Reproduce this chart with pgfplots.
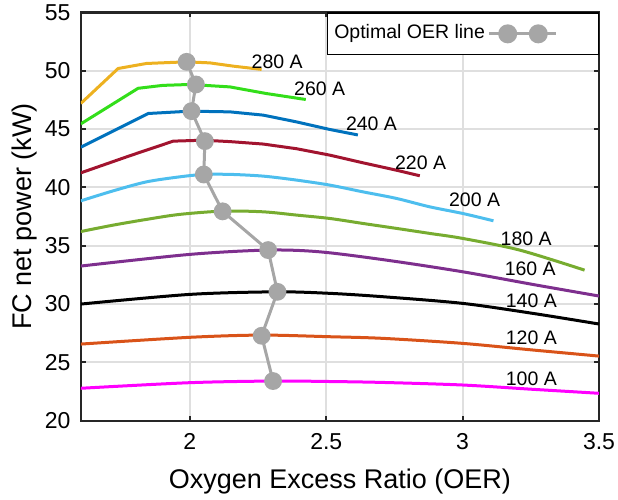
\documentclass[border=0pt]{standalone}
\usepackage{fontspec}
\setmainfont{Liberation Sans}
\usepackage{pgfplots}
\pgfplotsset{compat=1.18}

\definecolor{c280}{HTML}{EDB120}
\definecolor{c260}{RGB}{51,222,26}
\definecolor{c240}{HTML}{0072BD}
\definecolor{c220}{HTML}{A2142F}
\definecolor{c200}{HTML}{4DBEEE}
\definecolor{c180}{HTML}{77AC30}
\definecolor{c160}{HTML}{7E2F8E}
\definecolor{c120}{HTML}{D95319}
\definecolor{c100}{HTML}{FF00FF}
\definecolor{optgray}{HTML}{A6A6A6}
\definecolor{gridgray}{HTML}{DFDFDF}
\definecolor{axgray}{HTML}{262626}

\newcommand{\lblfont}{\fontsize{9.75bp}{11bp}\selectfont}

\begin{document}
\begin{tikzpicture}
\begin{axis}[
    scale only axis,
    width=259.1bp, height=204.1bp,
    xmin=1.6, xmax=3.5, ymin=20, ymax=55,
    xtick={2,2.5,3,3.5},
    ytick={20,25,30,35,40,45,50,55},
    grid=major,
    grid style={line width=1bp, color=gridgray},
    axis line style={line width=1.1bp, color=axgray},
    tick style={line width=1bp, color=axgray},
    major tick length=2.5bp,
    tick align=inside,
    ticklabel style={font=\fontsize{11.5bp}{13bp}\selectfont},
    /pgf/number format/assume math mode=true,
    xticklabel style={inner ysep=0pt, yshift=-6bp},
    yticklabel style={inner xsep=0pt, xshift=-5bp},
    xlabel={Oxygen Excess Ratio (OER)},
    ylabel={FC net power (kW)},
    every axis x label/.style={at={([yshift=-30.6bp]axis description cs:0.5,0)}, anchor=center, font=\fontsize{13.5bp}{15bp}\selectfont},
    every axis y label/.style={at={([xshift=-28.2bp]axis description cs:0,0.5)}, anchor=center, rotate=90, font=\fontsize{13.5bp}{15bp}\selectfont},
    legend plot pos=right,
    legend style={at={(1,1)}, anchor=north east, draw=black, line width=0.6bp, fill=white,
        inner xsep=2bp, inner ysep=4.5bp, font=\lblfont,
        nodes={inner sep=1.3bp, text depth=0.21em}, cells={anchor=west}},
]
% current curves (stack current in A)
\addplot[forget plot, c280, line width=1.5bp] coordinates {(1.6,47.2) (1.737,50.2) (1.841,50.63) (1.988,50.77) (2.073,50.68) (2.159,50.4) (2.263,50.12)};
\addplot[forget plot, c260, line width=1.5bp] coordinates {(1.6,45.45) (1.81,48.5) (1.9,48.75) (2.0,48.83) (2.147,48.62) (2.281,48.05) (2.425,47.54)};
\addplot[forget plot, c240, line width=1.5bp] coordinates {(1.6,43.45) (1.847,46.34) (2.0,46.54) (2.147,46.48) (2.269,46.2) (2.391,45.62) (2.513,44.97) (2.616,44.5)};
\addplot[forget plot, c220, line width=1.5bp] coordinates {(1.6,41.25) (1.78,42.72) (1.939,43.97) (2.049,44.05) (2.147,43.93) (2.269,43.72) (2.391,43.32) (2.513,42.77) (2.635,42.11) (2.757,41.48) (2.843,41.0)};
\addplot[forget plot, c200, line width=1.5bp, smooth] coordinates {(1.6,38.85) (1.719,39.71) (1.841,40.48) (1.963,40.91) (2.049,41.11) (2.147,41.12) (2.269,40.97) (2.391,40.63) (2.513,40.2) (2.635,39.62) (2.757,39.06) (2.879,38.34) (3.0,37.77) (3.113,37.14)};
\addplot[forget plot, c180, line width=1.5bp, smooth] coordinates {(1.6,36.22) (1.719,36.77) (1.841,37.26) (1.963,37.69) (2.122,37.97) (2.269,37.91) (2.391,37.63) (2.513,37.34) (2.635,36.91) (2.757,36.49) (2.879,36.06) (3.0,35.63) (3.209,34.63) (3.447,32.91)};
\addplot[forget plot, c160, line width=1.5bp, smooth] coordinates {(1.6,33.26) (2.0,34.26) (2.287,34.63) (2.476,34.48) (2.72,33.77) (3.0,32.77) (3.27,31.63) (3.5,30.69)};
\addplot[forget plot, black, line width=1.5bp, smooth] coordinates {(1.6,30.0) (2.0,30.83) (2.318,31.05) (2.513,30.92) (2.708,30.63) (3.0,30.06) (3.258,29.2) (3.5,28.29)};
\addplot[forget plot, c120, line width=1.5bp, smooth] coordinates {(1.6,26.57) (2.0,27.15) (2.263,27.34) (2.513,27.2) (2.708,27.06) (3.0,26.63) (3.258,26.06) (3.5,25.54)};
\addplot[forget plot, c100, line width=1.5bp, smooth] coordinates {(1.6,22.78) (2.0,23.26) (2.305,23.4) (2.513,23.36) (2.708,23.28) (3.0,23.06) (3.258,22.69) (3.5,22.35)};

% optimal OER line
\addplot[optgray, line width=1.5bp, mark=*, mark size=3.7bp, mark options={fill=optgray, draw=optgray},
    legend image code/.code={
        \path[draw=none] (0bp,0bp) -- (52.7bp,0bp);
        \draw[optgray, line width=1.5bp] (0bp,0bp) -- (33.5bp,0bp);
        \fill[optgray] (9.35bp,0bp) circle (4bp);
        \fill[optgray] (24.65bp,0bp) circle (4bp);
    }]
coordinates {(1.988,50.77) (2.022,48.83) (2.006,46.54) (2.055,43.97) (2.051,41.11) (2.12,37.95) (2.287,34.63) (2.321,31.05) (2.263,27.28) (2.305,23.4)};
\addlegendentry{Optimal OER line}

\node[font=\lblfont] at (axis cs:2.32,50.77) {280 A};
\node[font=\lblfont] at (axis cs:2.476,48.5) {260 A};
\node[font=\lblfont] at (axis cs:2.666,45.42) {240 A};
\node[font=\lblfont] at (axis cs:2.846,42.14) {220 A};
\node[font=\lblfont] at (axis cs:3.044,38.97) {200 A};
\node[font=\lblfont] at (axis cs:3.233,35.63) {180 A};
\node[font=\lblfont] at (axis cs:3.248,33.06) {160 A};
\node[font=\lblfont] at (axis cs:3.252,30.28) {140 A};
\node[font=\lblfont] at (axis cs:3.252,27.15) {120 A};
\node[font=\lblfont] at (axis cs:3.252,23.63) {100 A};

\coordinate (bl) at (rel axis cs:0,0);
\coordinate (tr) at (rel axis cs:1,1);
\end{axis}
\pgfresetboundingbox
\path ([xshift=-40.4bp,yshift=-39.65bp]bl) rectangle ([xshift=9.5bp,yshift=6.25bp]tr);
\end{tikzpicture}
\end{document}
